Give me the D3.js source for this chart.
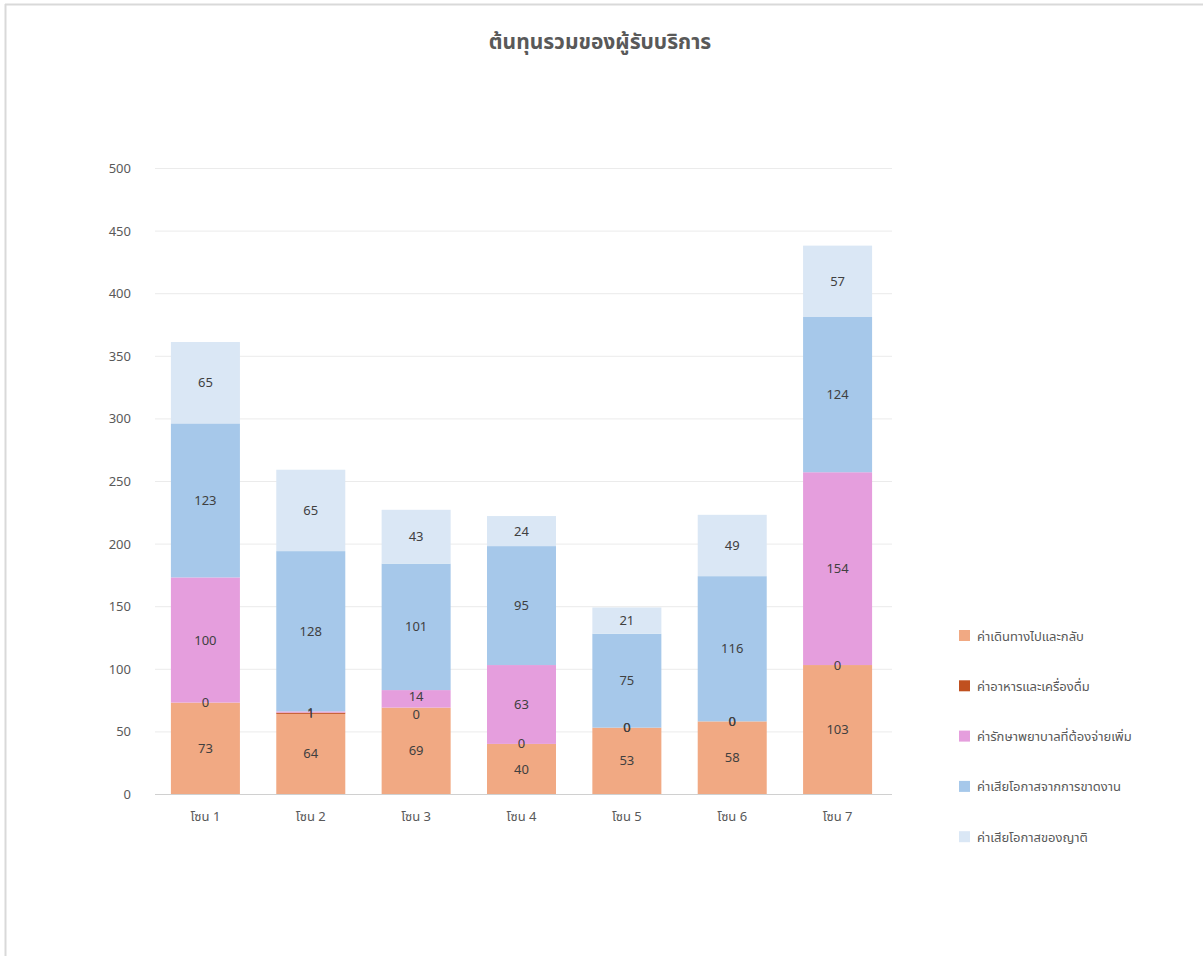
<!DOCTYPE html>
<html><head><meta charset="utf-8">
<script src="https://cdn.jsdelivr.net/npm/d3@7"></script>
<style>
html,body{margin:0;padding:0;background:#fff;}
svg{display:block;}
</style></head>
<body>
<svg id="c" width="1203" height="956"></svg>
<script>
const title = "ต้นทุนรวมของผู้รับบริการ";
const categories = ["โซน 1","โซน 2","โซน 3","โซน 4","โซน 5","โซน 6","โซน 7"];
const seriesNames = ["ค่าเดินทางไปและกลับ","ค่าอาหารและเครื่องดื่ม","ค่ารักษาพยาบาลที่ต้องจ่ายเพิ่ม","ค่าเสียโอกาสจากการขาดงาน","ค่าเสียโอกาสของญาติ"];
const travel    = [73, 64, 69, 40, 53, 58, 103];
const food      = [0, 1, 0, 0, 0, 0, 0];
const medical   = [100, 1, 14, 63, 0, 0, 154];
const work      = [123, 128, 101, 95, 75, 116, 124];
const relatives = [65, 65, 43, 24, 21, 49, 57];
const yTicks = [0,50,100,150,200,250,300,350,400,450,500];
const colors = ["#F1A983","#C0501F","#E59EDD","#A6C8EA","#DAE7F5"];

const seriesVals = [travel, food, medical, work, relatives];
const rows = categories.map((c,i)=>{
  const r = {cat:c};
  seriesNames.forEach((s,j)=>{ r[s] = seriesVals[j][i]; });
  return r;
});

const svg = d3.select("#c");
const fontFam = "'Noto Sans', 'Noto Sans Thai', 'Tahoma', 'DejaVu Sans', sans-serif";

// frame lines
svg.append("line").attr("x1",5).attr("x2",1203).attr("y1",4.5).attr("y2",4.5).attr("stroke","#d9d9d9").attr("stroke-width",2);
svg.append("line").attr("x1",5.5).attr("x2",5.5).attr("y1",4).attr("y2",956).attr("stroke","#d9d9d9").attr("stroke-width",2);

svg.append("text").attr("x",600).attr("y",49).attr("text-anchor","middle")
  .attr("font-family",fontFam).attr("font-size",21).attr("font-weight","bold").attr("fill","#595959").text(title);

const x = d3.scaleBand().domain(categories).range([153,890]).paddingInner(0.345).paddingOuter(0.17);
const y = d3.scaleLinear().domain([0,500]).range([794,168]);

// gridlines
svg.append("g").selectAll("line").data(yTicks.filter(t=>t>0)).join("line")
  .attr("x1",155).attr("x2",892).attr("y1",d=>y(d)+0.5).attr("y2",d=>y(d)+0.5)
  .attr("stroke","#ebebeb").attr("stroke-width",1);

const yAxis = d3.axisLeft(y).tickValues(yTicks).tickSize(0).tickPadding(0);
const gy = svg.append("g").attr("transform","translate(131,0)").call(yAxis);
gy.select(".domain").remove();
gy.selectAll("text").attr("font-family",fontFam).attr("font-size",13).attr("fill","#595959").attr("dy","0.35em");

const stack = d3.stack().keys(seriesNames);
const stacked = stack(rows);

const g = svg.append("g");
stacked.forEach((layer,j)=>{
  g.append("g").selectAll("rect").data(layer).join("rect")
    .attr("x",d=>x(d.data.cat)).attr("width",x.bandwidth())
    .attr("y",d=>y(d[1])).attr("height",d=>y(d[0])-y(d[1]))
    .attr("fill",colors[j]);
});

// baseline
svg.append("line").attr("x1",155).attr("x2",892).attr("y1",y(0)+0.5).attr("y2",y(0)+0.5).attr("stroke","#d0d0d0").attr("stroke-width",1);

// label positions, nudging zero labels below a short labelled segment above
const labels = [];
categories.forEach((c,i)=>{
  const pos = stacked.map(layer=>({v: layer[i][1]-layer[i][0], yy: y((layer[i][0]+layer[i][1])/2), cat:c}));
  for (let j=0;j<pos.length-1;j++){
    if (pos[j].v===0 && pos[j+1].v>0){
      const gap = pos[j].yy - pos[j+1].yy;
      if (gap < 17) { pos[j+1].yy -= 2; pos[j].yy = pos[j+1].yy + 18; }
    }
  }
  pos.forEach(p=>labels.push(p));
});

g.append("g").selectAll("text").data(labels).join("text")
  .attr("x",d=>x(d.cat)+x.bandwidth()/2)
  .attr("y",d=>d.yy)
  .attr("dy","0.35em").attr("text-anchor","middle")
  .attr("font-family",fontFam).attr("font-size",13).attr("fill","#404040")
  .text(d=>d.v);

// x labels
svg.append("g").selectAll("text").data(categories).join("text")
  .attr("x",d=>x(d)+x.bandwidth()/2).attr("y",821).attr("text-anchor","middle")
  .attr("font-family",fontFam).attr("font-size",13).attr("fill","#595959").text(d=>d);

// legend
const lg = svg.append("g");
seriesNames.forEach((s,j)=>{
  const yy = 636 + j*50.3;
  lg.append("rect").attr("x",959).attr("y",yy-6).attr("width",11).attr("height",11).attr("fill",colors[j]);
  lg.append("text").attr("x",977).attr("y",yy).attr("dy","0.35em")
    .attr("font-family",fontFam).attr("font-size",13).attr("fill","#595959").text(s);
});
</script>
</body></html>
